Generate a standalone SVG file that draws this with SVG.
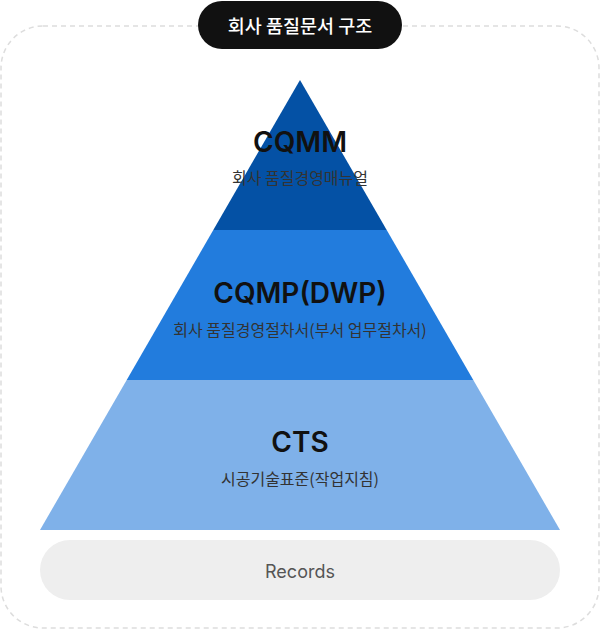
<svg xmlns="http://www.w3.org/2000/svg" width="600" height="630" viewBox="0 0 600 630">
  <style>
    .title { font-family: Inter, "Noto Sans", "Noto Sans CJK KR", sans-serif; font-weight: 600; font-size: 28px; fill: #111111; text-anchor: middle; dominant-baseline: central; }
    .sub { font-family: "Noto Sans CJK KR", "Noto Sans", sans-serif; font-size: 16px; fill: #333333; text-anchor: middle; dominant-baseline: central; }
  </style>
  <rect width="600" height="630" fill="#ffffff"/>
  <g id="frame">
    <rect x="1" y="26" width="598" height="602" rx="42" ry="42" fill="none" stroke="#dddddd" stroke-width="1.5" stroke-dasharray="5 4"/>
  </g>
  <g id="header">
    <rect x="198" y="1" width="204" height="48" rx="24" ry="24" fill="#111111"/>
    <text x="300" y="25" font-family="'Noto Sans CJK KR', sans-serif" font-size="18.5" font-weight="500" fill="#ffffff" text-anchor="middle" dominant-baseline="central">회사 품질문서 구조</text>
  </g>
  <g id="cqmm">
    <polygon points="300,80 386.7,230 213.3,230" fill="#0451A5"/>
    <text class="title" x="300" y="142">CQMM</text>
    <text class="sub" x="300" y="177">회사 품질경영매뉴얼</text>
  </g>
  <g id="cqmp">
    <polygon points="213.3,230 386.7,230 473.3,380 126.7,380" fill="#227CDD"/>
    <text class="title" x="300" y="293">CQMP(DWP)</text>
    <text class="sub" x="300" y="329">회사 품질경영절차서(부서 업무절차서)</text>
  </g>
  <g id="cts">
    <polygon points="126.7,380 473.3,380 560,530 40,530" fill="#7FB1E9"/>
    <text class="title" x="300" y="442">CTS</text>
    <text class="sub" x="300" y="478">시공기술표준(작업지침)</text>
  </g>
  <g id="records">
    <rect x="40" y="540" width="520" height="60" rx="30" ry="30" fill="#eeeeee"/>
    <text x="300" y="571" font-family="Inter, 'Noto Sans', sans-serif" font-size="18" fill="#555555" text-anchor="middle" dominant-baseline="central">Records</text>
  </g>
  <g id="connectors"></g>
</svg>
